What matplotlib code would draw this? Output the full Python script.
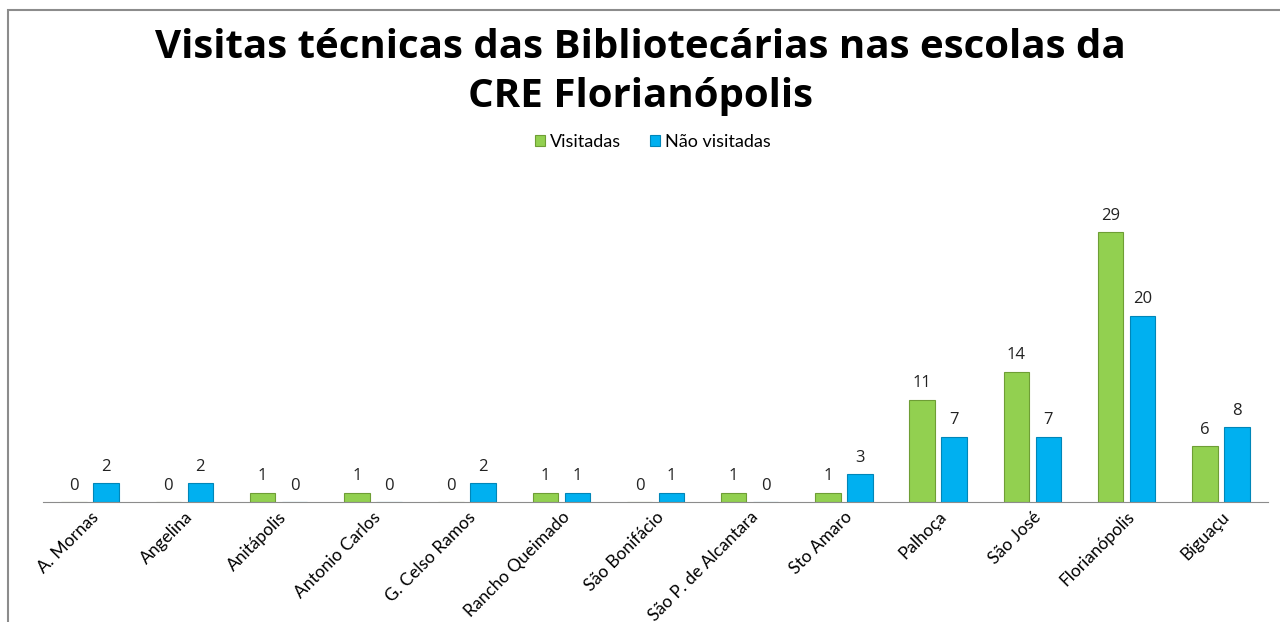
import numpy as np
import matplotlib.pyplot as plt
from matplotlib.patches import Rectangle

escolas = ["A. Mornas", "Angelina", "Anitápolis", "Antonio Carlos", "G. Celso Ramos",
           "Rancho Queimado", "São Bonifácio", "São P. de Alcantara", "Sto Amaro",
           "Palhoça", "São José", "Florianópolis", "Biguaçu"]
visitadas = [0, 0, 1, 1, 0, 1, 0, 1, 1, 11, 14, 29, 6]
nao_visitadas = [2, 2, 0, 0, 2, 1, 1, 0, 3, 7, 7, 20, 8]

fig = plt.figure(figsize=(12.8, 6.22), dpi=100)
ax = fig.add_axes([0.0336, 0.193, 0.957, 0.524])

x = np.arange(len(escolas))
w = 0.27
off = 0.17

b1 = ax.bar(x - off, visitadas, w, color="#92d050", edgecolor="#6e9e35", linewidth=0.8, label="Visitadas")
b2 = ax.bar(x + off, nao_visitadas, w, color="#00b0f0", edgecolor="#0086b8", linewidth=0.8, label="Não visitadas")

for bars in (b1, b2):
    ax.bar_label(bars, padding=6, fontsize=12, color="#222222", family="Open Sans")

ax.set_xlim(-0.5, len(escolas) - 0.5)
ax.set_ylim(0, 35)
ax.set_yticks([])
ax.set_xticks(x)
ax.set_xticklabels(escolas, rotation=45, ha="right", rotation_mode="anchor",
                   fontsize=12.5, family="Lato")
ax.tick_params(axis="x", length=0, pad=5)
for s in ("top", "right", "left"):
    ax.spines[s].set_visible(False)
ax.spines["bottom"].set_color("#8c8c8c")

fig.text(0.5, 0.884, "Visitas técnicas das Bibliotecárias nas escolas da\nCRE Florianópolis",
         ha="center", va="center", fontsize=29, fontweight="bold", family="Open Sans",
         linespacing=1.35)

fig.legend(loc="center", bbox_to_anchor=(0.51, 0.772), ncol=2, frameon=False,
           prop={"family": "Lato", "size": 13}, handlelength=0.55, handleheight=0.55,
           handletextpad=0.3, columnspacing=1.6)

fig.add_artist(Rectangle((8 / 1280, -0.1), 1.0, 1 - 10 / 622 + 0.1, transform=fig.transFigure,
                         fill=False, edgecolor="#8c8c8c", linewidth=1.5))

fig.savefig("out.png", dpi=100)
